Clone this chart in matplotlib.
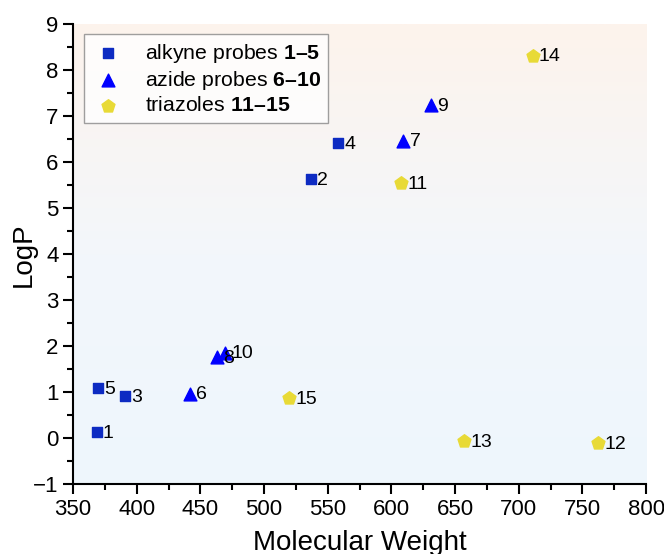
import numpy as np
import matplotlib
matplotlib.use("Agg")
import matplotlib.pyplot as plt
from matplotlib.colors import LinearSegmentedColormap

plt.rcParams['font.family'] = ['Liberation Sans', 'DejaVu Sans']
plt.rcParams['mathtext.fontset'] = 'custom'
plt.rcParams['mathtext.rm'] = 'Liberation Sans'
plt.rcParams['mathtext.bf'] = 'Liberation Sans:bold'

# alkyne probes 1-5
alk_ids = ["1", "2", "3", "4", "5"]
alk_mw = [368.5, 537, 390.5, 558, 369.5]
alk_logp = [0.13, 5.63, 0.91, 6.42, 1.09]

# azide probes 6-10
az_ids = ["6", "7", "8", "9", "10"]
az_mw = [441.5, 609.5, 463, 631, 469.5]
az_logp = [0.97, 6.47, 1.76, 7.24, 1.86]

# triazoles 11-15
tri_ids = ["11", "12", "13", "14", "15"]
tri_mw = [607.5, 762.5, 657, 711, 519.5]
tri_logp = [5.54, -0.11, -0.07, 8.32, 0.87]

fig = plt.figure(figsize=(6.64, 5.54), dpi=100)
ax = fig.add_axes([0.110, 0.126, 0.863, 0.830])

# background gradient (peach at top, light blue at bottom)
cmap = LinearSegmentedColormap.from_list("bg", ["#eef6fd", "#f3f7fb", "#fdf3ec"])
grad = np.linspace(0, 1, 256).reshape(-1, 1)
ax.imshow(grad, cmap=cmap, aspect="auto", origin="lower",
          extent=[350, 800, -1, 9], zorder=0)

ax.scatter(alk_mw, alk_logp, marker="s", s=60, color="#0d2bc2", zorder=3,
           label=r"alkyne probes $\mathbf{1–5}$")
ax.scatter(az_mw, az_logp, marker="^", s=85, color="#0000ff", zorder=3,
           label=r"azide probes $\mathbf{6–10}$")
ax.scatter(tri_mw, tri_logp, marker="p", s=95, color="#e8da36", zorder=3,
           label=r"triazoles $\mathbf{11–15}$")

for ids, xs, ys in [(alk_ids, alk_mw, alk_logp), (az_ids, az_mw, az_logp),
                    (tri_ids, tri_mw, tri_logp)]:
    for t, x, y in zip(ids, xs, ys):
        ax.annotate(t, (x, y), xytext=(4.5, -0.8), textcoords="offset points",
                    ha="left", va="center", fontsize=14, zorder=4)

ax.set_xlim(350, 800)
ax.set_ylim(-1, 9)
ax.set_xticks(np.arange(350, 801, 50))
ax.set_yticks(np.arange(-1, 10, 1))
ax.set_xticks(np.arange(375, 800, 50), minor=True)
ax.set_yticks(np.arange(-0.5, 9, 1), minor=True)
ax.set_yticklabels(["\u22121"] + [str(v) for v in range(0, 10)])
ax.tick_params(axis="both", which="major", direction="out", length=7,
               width=1.5, labelsize=16)
ax.tick_params(axis="both", which="minor", direction="out", length=4,
               width=1.5)
ax.spines["top"].set_visible(False)
ax.spines["right"].set_visible(False)
ax.spines["left"].set_linewidth(1.5)
ax.spines["bottom"].set_linewidth(1.5)

ax.set_xlabel("Molecular Weight", fontsize=20, labelpad=7)
ax.set_ylabel("LogP", fontsize=20)
ax.yaxis.set_label_coords(-0.064, 0.5)

leg = ax.legend(loc="upper left", bbox_to_anchor=(0.012, 0.988), fontsize=15.3,
                frameon=True, fancybox=False, edgecolor="#888888",
                borderpad=0.35, handletextpad=1.0, labelspacing=0.2,
                handlelength=1.5, borderaxespad=0.2)
leg.get_frame().set_linewidth(1.0)
leg.get_frame().set_facecolor("white")

fig.savefig("out.png", dpi=100)
